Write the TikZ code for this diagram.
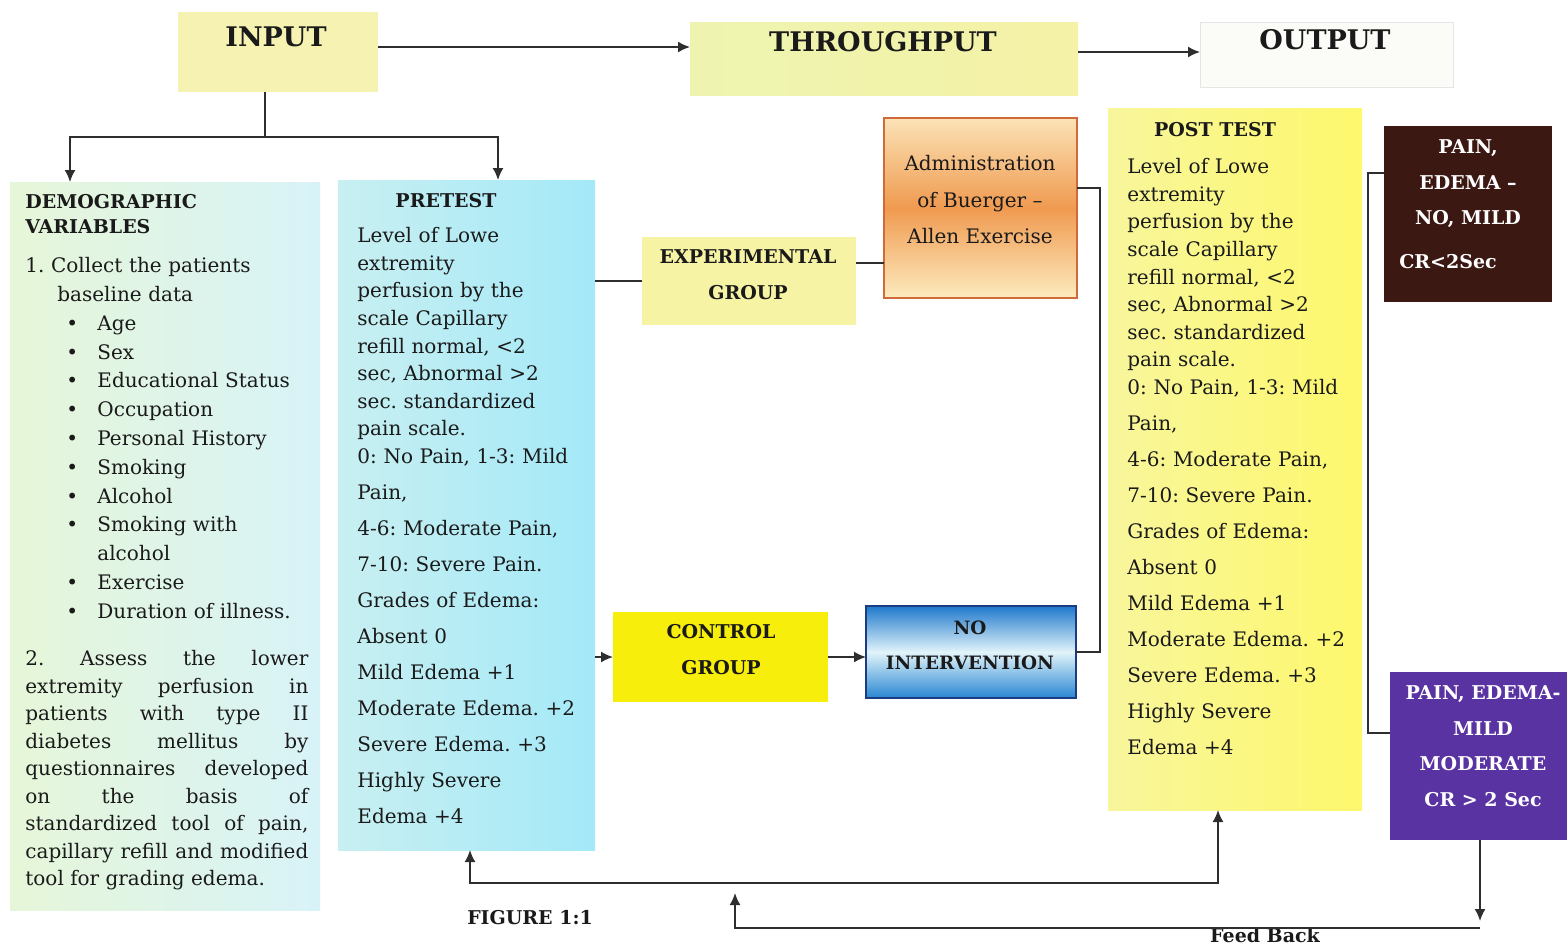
\documentclass[tikz,border=0pt]{standalone}
\usepackage{fontspec}
\setmainfont{DejaVu Serif}
\usetikzlibrary{arrows.meta,fit}

\definecolor{inputc}{HTML}{F6F3B2}
\definecolor{thruL}{HTML}{EEF4B0}
\definecolor{thruR}{HTML}{F4F2A6}
\definecolor{outc}{HTML}{FBFBF7}
\definecolor{demoL}{HTML}{E6F6D8}
\definecolor{demoR}{HTML}{D8F3F8}
\definecolor{preL}{HTML}{C8EFF1}
\definecolor{preR}{HTML}{A4E9F8}
\definecolor{expc}{HTML}{F6F3A4}
\definecolor{admTop}{HTML}{FBE3B6}
\definecolor{admMid}{HTML}{F09A50}
\definecolor{admBot}{HTML}{FCEBBE}
\definecolor{admEdge}{HTML}{D06A3A}
\definecolor{postL}{HTML}{F8F69C}
\definecolor{postR}{HTML}{FDF86C}
\definecolor{painc}{HTML}{3C1813}
\definecolor{ctrlc}{HTML}{F7EE0C}
\definecolor{noTop}{HTML}{1E78CC}
\definecolor{noMid}{HTML}{E2F4FA}
\definecolor{noBot}{HTML}{2886D2}
\definecolor{noEdge}{HTML}{1C3C82}
\definecolor{purpc}{HTML}{5A33A3}
\definecolor{linec}{HTML}{2E2E2E}
\definecolor{textc}{HTML}{1A1A1A}

\newcommand{\dvi}[1]{\hspace*{20.5pt}\makebox[15.5pt][l]{\textbullet}#1}

\begin{document}
\frenchspacing
\begin{tikzpicture}[x=0.5pt, y=-0.5pt, text=textc,
  box/.style={inner sep=0pt, outer sep=0pt},
  hd/.style={font=\fontsize{13.5}{16}\selectfont\bfseries},
  bold/.style={font=\fontsize{9.5}{18}\selectfont\bfseries, align=center, inner sep=0pt},
  body/.style={font=\fontsize{10}{13.8}\selectfont, align=left, inner sep=0pt, anchor=north west},
  link/.style={line width=0.8pt, draw=linec},
  arr/.style={link, -{Latex[length=6pt,width=5.5pt]}}]
  \useasboundingbox (0,0) rectangle (1567,944);

  \node[box, fit={(178,12) (378,92)}, fill=inputc] (input) {};
  \node[box, fit={(690,22) (1078,95)}, left color=thruL, right color=thruR] (thru) {};
  \node[box, fit={(1200,22) (1453,87)}, fill=outc, draw=gray!20] (output) {};
  \node[box, fit={(10,182) (320,910)}, left color=demoL, right color=demoR] (demo) {};
  \node[box, fit={(338,180) (595,850)}, left color=preL, right color=preR] (pre) {};
  \node[box, fit={(642,237) (856,325)}, fill=expc] (exp) {};
  \node[box, fit={(884,118) (1077,298)}, top color=admTop, bottom color=admBot, middle color=admMid, draw=admEdge, line width=1pt] (admin) {};
  \node[box, fit={(1108,108) (1362,810)}, left color=postL, right color=postR] (post) {};
  \node[box, fit={(1384,126) (1552,302)}, fill=painc] (pain) {};
  \node[box, fit={(613,612) (828,702)}, fill=ctrlc] (ctrl) {};
  \node[box, fit={(866,606) (1076,698)}, top color=noTop, bottom color=noBot, middle color=noMid, draw=noEdge, line width=1pt] (noint) {};
  \node[box, fit={(1390,672) (1567,840)}, fill=purpc] (purp) {};

  \node[hd] (inputlbl) at (276,37) {INPUT};
  \node[hd] (thrulbl) at (883,42) {THROUGHPUT};
  \node[hd] (outlbl) at (1325,40) {OUTPUT};

  \node[bold, align=left, anchor=north west, font=\fontsize{9.5}{12.5}\selectfont\bfseries] (demohd) at (25,194) {DEMOGRAPHIC\\VARIABLES};
  \node[body, text width=150pt, font=\fontsize{10}{14.4}\selectfont] (demotxt) at (25,257) {1.\ Collect the patients\\
    \hspace*{16pt}baseline data\\
    \dvi{Age}\\ \dvi{Sex}\\ \dvi{Educational Status}\\ \dvi{Occupation}\\
    \dvi{Personal History}\\ \dvi{Smoking}\\ \dvi{Alcohol}\\ \dvi{Smoking with}\\
    \hspace*{36pt}alcohol\\ \dvi{Exercise}\\ \dvi{Duration of illness.}};
  \node[body, text width=141.5pt, align=justify, font=\fontsize{10}{13.75}\selectfont] (demopara) at (25,650) {2. Assess the lower\linebreak
    extremity perfusion in\linebreak patients with type II\linebreak
    diabetes mellitus by\linebreak questionnaires developed\linebreak
    on the basis of\linebreak standardized tool of pain,\linebreak
    capillary refill and modified\linebreak tool for grading edema.};

  \node[bold] (prehd) at (446,201) {PRETEST};
  \node[body, text width=125pt] (pretxt) at (357,227) {Level of Lowe\\ extremity\\ perfusion by the\\
    scale Capillary\\ refill normal, <2\\ sec, Abnormal >2\\ sec. standardized\\ pain scale.\\
    0: No Pain, 1-3: Mild\\[4.2pt] Pain,\\[4.2pt] 4-6: Moderate Pain,\\[4.2pt] 7-10: Severe Pain.\\[4.2pt]
    Grades of Edema:\\[4.2pt] Absent 0\\[4.2pt] Mild Edema +1\\[4.2pt] Moderate Edema. +2\\[4.2pt]
    Severe Edema. +3\\[4.2pt] Highly Severe\\[4.2pt] Edema +4};

  \node[bold] (explbl) at (748,275) {EXPERIMENTAL\\GROUP};
  \node[font=\fontsize{10}{18.25}\selectfont, align=center, inner sep=0pt] (adminlbl) at (980,200) {Administration\\of Buerger --\\Allen Exercise};

  \node[bold] (posthd) at (1215,130) {POST TEST};
  \node[body, text width=120pt] (posttxt) at (1127,158) {Level of Lowe\\ extremity\\ perfusion by the\\
    scale Capillary\\ refill normal, <2\\ sec, Abnormal >2\\ sec. standardized\\ pain scale.\\
    0: No Pain, 1-3: Mild\\[4.2pt] Pain,\\[4.2pt] 4-6: Moderate Pain,\\[4.2pt] 7-10: Severe Pain.\\[4.2pt]
    Grades of Edema:\\[4.2pt] Absent 0\\[4.2pt] Mild Edema +1\\[4.2pt] Moderate Edema. +2\\[4.2pt]
    Severe Edema. +3\\[4.2pt] Highly Severe\\[4.2pt] Edema +4};

  \node[bold, text=white, font=\fontsize{9.5}{17.8}\selectfont\bfseries] (painlbl) at (1468,184) {PAIN,\\EDEMA --\\NO, MILD};
  \node[bold, text=white] (painc) at (1448,262) {CR<2Sec};
  \node[bold] (ctrllbl) at (721,650) {CONTROL\\GROUP};
  \node[bold, font=\fontsize{9.2}{17.5}\selectfont\bfseries] (nointlbl) at (970,645) {NO\\INTERVENTION};
  \node[bold, text=white, font=\fontsize{9.5}{17.8}\selectfont\bfseries] (purplbl) at (1483,746) {PAIN, EDEMA-\\MILD\\MODERATE\\CR > 2 Sec};

  \node[bold] (figlbl) at (530,918) {FIGURE 1:1};
  \node[bold] (fblbl) at (1265,935) {Feed Back};

  \coordinate (split) at (265,137);
  \coordinate (rowin) at (0,47);
  \coordinate (rowout) at (0,52);
  \coordinate (rowexp) at (0,263);
  \coordinate (brk) at (1100,0);
  \coordinate (pa) at (1368,173);
  \coordinate (pb) at (1368,733);
  \coordinate (lb) at (470,883);
  \coordinate (rb) at (1218,883);
  \coordinate (fa) at (1480,921);
  \coordinate (fb) at (735,928);
  \coordinate (fc) at (735,893);

  \draw[arr] (input.east |- rowin) -- (thru.west |- rowin);
  \draw[arr] (thru.east |- rowout) -- (output.west |- rowout);
  \draw[link] (input.south -| split) -- (split);
  \draw[arr] (split) -| ([xshift=30pt]demo.north west);
  \draw[arr] (split) -| ([xshift=80pt]pre.north west);
  \draw[link] (exp.west) -- (exp.west -| pre.east);
  \draw[link] (exp.east |- rowexp) -- (admin.west |- rowexp);
  \draw[link] ([yshift=10pt]admin.east) -| (noint.east -| brk) -- (noint.east);
  \draw[arr] (pre.east |- ctrl.west) -- (ctrl.west);
  \draw[arr] (ctrl.east) -- (ctrl.east -| noint.west);
  \draw[link] (pain.west |- pa) -- (pa) -- (pb) -- (purp.west |- pb);
  \draw[link, {Latex[length=6pt,width=5.5pt]}-{Latex[length=6pt,width=5.5pt]}] (pre.south -| lb) -- (lb) -- (rb) -- (post.south -| rb);
  \draw[arr] (purp.south -| fa) -- (fa);
  \draw[arr] (fa |- fb) -- (fb) -- (fc);
\end{tikzpicture}
\end{document}
